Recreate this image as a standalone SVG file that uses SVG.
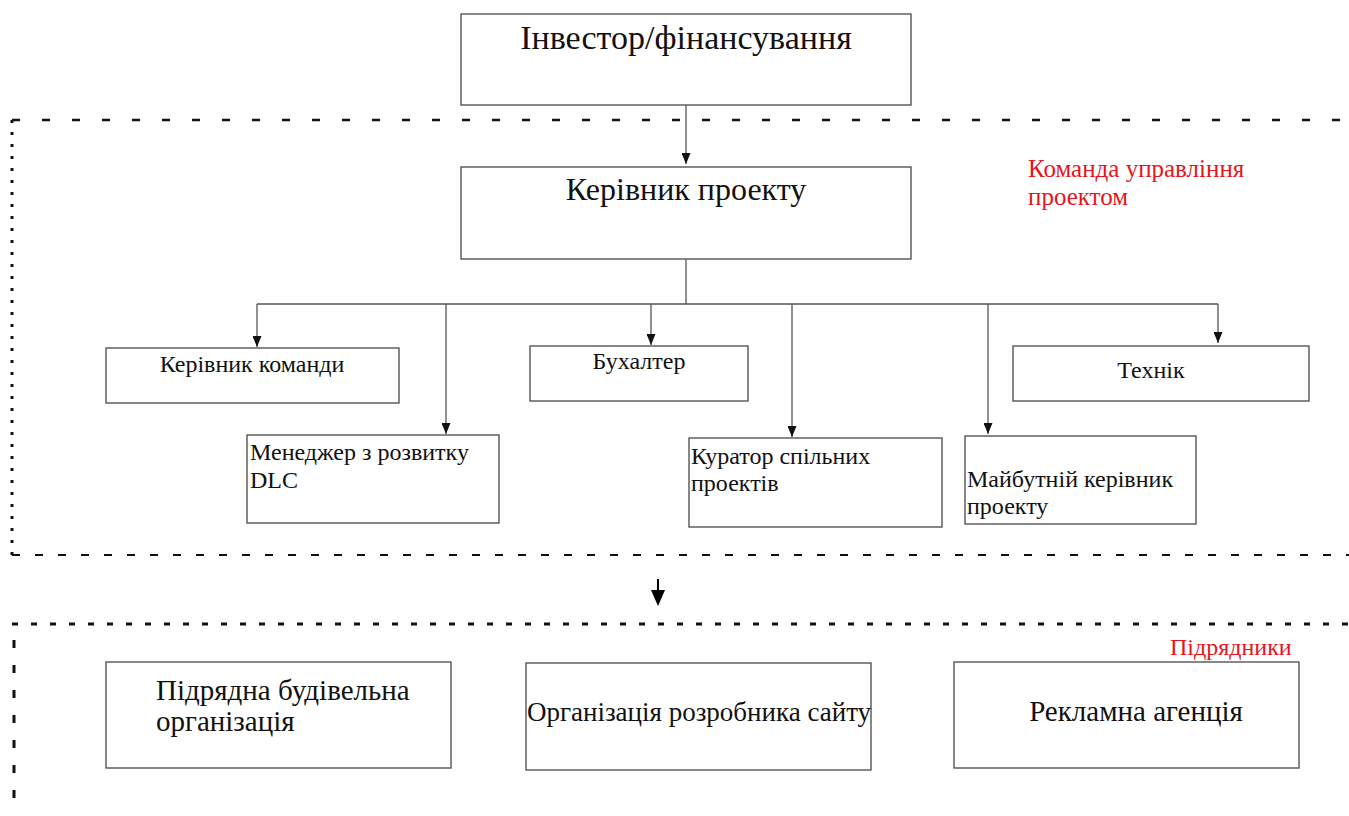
<svg xmlns="http://www.w3.org/2000/svg" width="1349" height="816" viewBox="0 0 1349 816">
<defs>
<style>
.box{fill:#fff;stroke:#555;stroke-width:1.4}
.ln{fill:none;stroke:#555;stroke-width:1.3}
</style>
<marker id="ah" markerWidth="11" markerHeight="9" refX="11" refY="4.5" orient="auto" markerUnits="userSpaceOnUse" viewBox="0 0 11 9">
<path d="M0,0 L11,4.5 L0,9 Z" fill="#111"/>
</marker>
</defs>
<rect width="1349" height="816" fill="#fff"/>
<g id="regions">
<line x1="12" y1="120" x2="1349" y2="120" stroke="#111" stroke-width="2.5" stroke-dasharray="8 22"/>
<line x1="12" y1="120" x2="12" y2="555" stroke="#111" stroke-width="3" stroke-dasharray="3 9"/>
<line x1="12" y1="555" x2="1349" y2="555" stroke="#111" stroke-width="2" stroke-dasharray="8 15"/>
<line x1="12" y1="624" x2="1349" y2="624" stroke="#111" stroke-width="3" stroke-dasharray="6 13"/>
<line x1="14" y1="640" x2="14" y2="808" stroke="#111" stroke-width="3" stroke-dasharray="8 17"/>
<g font-family="'Liberation Serif', 'Times New Roman', serif" fill="#e8141c">
<text x="1028" y="177" font-size="25">Команда управління</text>
<text x="1028" y="205" font-size="25">проектом</text>
<text x="1170" y="655" font-size="24">Підрядники</text>
</g>
</g>
<g id="connectors">
<line class="ln" x1="686" y1="105" x2="686" y2="164" marker-end="url(#ah)"/>
<polyline class="ln" points="686,259 686,304"/>
<line class="ln" x1="257" y1="304" x2="1218" y2="304"/>
<line class="ln" x1="257" y1="304" x2="257" y2="347" marker-end="url(#ah)"/>
<line class="ln" x1="446" y1="304" x2="446" y2="434" marker-end="url(#ah)"/>
<line class="ln" x1="651" y1="304" x2="651" y2="345" marker-end="url(#ah)"/>
<line class="ln" x1="792" y1="304" x2="792" y2="437" marker-end="url(#ah)"/>
<line class="ln" x1="988" y1="304" x2="988" y2="434" marker-end="url(#ah)"/>
<line class="ln" x1="1218" y1="304" x2="1218" y2="343" marker-end="url(#ah)"/>
<line x1="658" y1="579" x2="658" y2="592" stroke="#000" stroke-width="2"/>
<path d="M651,590 L665,590 L658,606 Z" fill="#000"/>
</g>
<g font-family="'Liberation Serif', 'Times New Roman', serif" fill="#111">
<g id="investor">
<rect class="box" x="461" y="14" width="450" height="91"/>
<text x="686" y="49" font-size="34" text-anchor="middle">Інвестор/фінансування</text>
</g>
<g id="pm">
<rect class="box" x="461" y="167" width="450" height="92"/>
<text x="686" y="200" font-size="32" text-anchor="middle">Керівник проекту</text>
</g>
<g id="teamlead">
<rect class="box" x="106" y="348" width="293" height="55"/>
<text x="252" y="372" font-size="24" text-anchor="middle">Керівник команди</text>
</g>
<g id="dlc">
<rect class="box" x="247" y="435" width="252" height="88"/>
<text x="250" y="460" font-size="24">Менеджер з розвитку</text>
<text x="250" y="488" font-size="24">DLC</text>
</g>
<g id="accountant">
<rect class="box" x="530" y="346" width="218" height="55"/>
<text x="639" y="369" font-size="24" text-anchor="middle">Бухалтер</text>
</g>
<g id="curator">
<rect class="box" x="689" y="438" width="253" height="89"/>
<text x="691" y="464" font-size="24">Куратор спільних</text>
<text x="691" y="491" font-size="24">проектів</text>
</g>
<g id="future">
<rect class="box" x="965" y="436" width="231" height="88"/>
<text x="967" y="487" font-size="24">Майбутній керівник</text>
<text x="967" y="514" font-size="24">проекту</text>
</g>
<g id="tech">
<rect class="box" x="1013" y="346" width="296" height="55"/>
<text x="1151" y="378" font-size="24" text-anchor="middle">Технік</text>
</g>
<g id="builder">
<rect class="box" x="106" y="662" width="345" height="106"/>
<text x="156" y="700" font-size="29">Підрядна будівельна</text>
<text x="156" y="731" font-size="29">організація</text>
</g>
<g id="webdev">
<rect class="box" x="526" y="663" width="345" height="107"/>
<text x="699" y="721" font-size="27" text-anchor="middle">Організація розробника сайту</text>
</g>
<g id="ads">
<rect class="box" x="954" y="662" width="345" height="106"/>
<text x="1136" y="721" font-size="29" text-anchor="middle">Рекламна агенція</text>
</g>
</g>
</svg>
